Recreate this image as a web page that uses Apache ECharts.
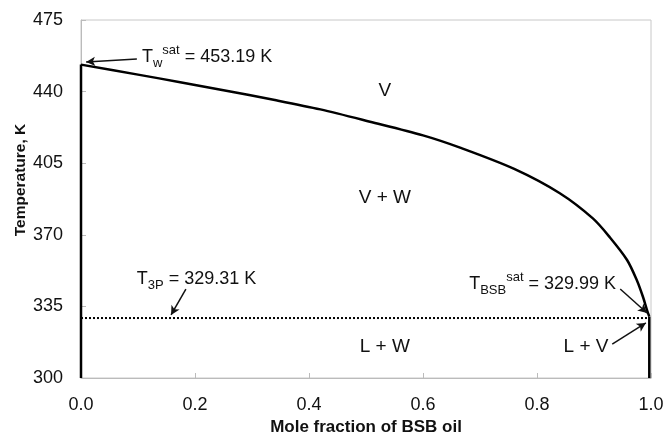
<!DOCTYPE html>
<html><head><meta charset="utf-8">
<script src="https://cdn.jsdelivr.net/npm/echarts@6/dist/echarts.min.js"></script>
<style>html,body{margin:0;padding:0;background:#fff}#c{width:665px;height:432px}</style>
</head><body><div id="c"></div>
<script>
// Phase boundary (W / V dew curve), mole fraction of BSB oil vs temperature (K)
var curveX = [0, 0.1, 0.174, 0.25, 0.34, 0.42, 0.507, 0.6, 0.665, 0.76, 0.84, 0.898, 0.928, 0.958, 0.975, 0.986, 0.993, 0.997];
var curveT = [453.19, 448.3, 444.6, 440.7, 435.9, 431.3, 425.3, 418.6, 412.6, 402.2, 390.3, 378.0, 368.7, 357.7, 347.9, 339.6, 333.2, 329.99];
// Vertical boundaries at the pure-component ends
var leftEdgeX = [0, 0];
var leftEdgeT = [300, 453.19];
var rightEdgeX = [0.997, 0.997];
var rightEdgeT = [329.99, 300];
// Three-phase line
var tripleX = [0, 0.997];
var tripleT = [329.31, 329.31];
// Axis ticks
var xTicks = [0, 0.2, 0.4, 0.6, 0.8, 1.0];
var yTicks = [300, 335, 370, 405, 440, 475];
// Region labels: [x, T, text]
var regionLabels = [[0.533, 440.3, 'V'], [0.533, 388.0, 'V + W'], [0.533, 315.2, 'L + W'], [0.886, 315.2, 'L + V']];
// Annotation texts anchored at left: [x, T, rich text]
var annotations = [
  [0.107, 456.9, '{m|T}{sub|w}{sup|sat}{m| = 453.19 K}'],
  [0.098, 348.4, '{m|T}{sub|3P}{m| = 329.31 K}'],
  [0.681, 345.9, '{m|T}{sub|BSB}{sup|sat}{m| = 329.99 K}']
];
// Arrows: [fromX, fromT, toX, toT]
var arrows = [
  [0.098, 455.9, 0.009, 454.5],
  [0.184, 343.5, 0.158, 330.8],
  [0.946, 343.5, 0.993, 331.8],
  [0.932, 316.6, 0.991, 326.9]
];

var font = 'Liberation Sans, Arial, sans-serif';
var chart = echarts.init(document.getElementById('c'));
var rich = {
  m: {fontSize: 18, fontFamily: font, color: '#111', lineHeight: 26},
  sub: {fontSize: 13, fontFamily: font, color: '#111', verticalAlign: 'bottom', lineHeight: 14},
  sup: {fontSize: 13, fontFamily: font, color: '#111', verticalAlign: 'top', lineHeight: 14}
};
function zip(a, b) { return a.map(function (v, i) { return [v, b[i]]; }); }
var solid = {color: '#000', width: 2.5};

chart.setOption({
  animation: false,
  backgroundColor: '#fff',
  grid: {left: 81, right: 14, top: 20, bottom: 54, show: true, borderColor: '#c8c8c8', borderWidth: 1,
         containLabel: false, outerBoundsMode: 'none'},
  xAxis: {
    type: 'value', min: xTicks[0], max: xTicks[xTicks.length - 1], interval: 0.2,
    name: 'Mole fraction of BSB oil', nameLocation: 'middle', nameGap: 33,
    nameTextStyle: {fontSize: 17, fontWeight: 'bold', fontFamily: font, color: '#111'},
    axisLine: {lineStyle: {color: '#bbb', width: 1}},
    axisTick: {inside: true, length: 5, lineStyle: {color: '#bbb'}},
    axisLabel: {fontSize: 18, fontFamily: font, color: '#111', margin: 18, formatter: function (v) { return v.toFixed(1); }},
    splitLine: {show: false}
  },
  yAxis: {
    type: 'value', min: yTicks[0], max: yTicks[yTicks.length - 1], interval: 35,
    axisLine: {show: true, lineStyle: {color: '#bbb', width: 1}},
    axisTick: {show: true, inside: true, length: 5, lineStyle: {color: '#bbb'}},
    axisLabel: {fontSize: 18, fontFamily: font, color: '#111', margin: 18},
    splitLine: {show: false}
  },
  graphic: [{
    type: 'text', x: 21, y: 180, rotation: Math.PI / 2,
    style: {text: 'Temperature, K', fontSize: 15.5, fontWeight: 'bold', fontFamily: font, fill: '#111', align: 'center', verticalAlign: 'middle'}
  }],
  series: [
    {
      type: 'line', data: zip(curveX, curveT), showSymbol: false, symbol: 'none', smooth: 0.3,
      lineStyle: solid, z: 3,
      markPoint: {
        symbol: 'circle', symbolSize: 0,
        data: regionLabels.map(function (r) {
          return {coord: [r[0], r[1]], label: {show: true, position: 'inside', formatter: r[2], fontSize: 19, fontFamily: font, color: '#111'}};
        }).concat(annotations.map(function (a) {
          return {coord: [a[0], a[1]], label: {show: true, position: 'right', distance: 0, formatter: a[2], rich: rich}};
        }))
      },
      markLine: {
        silent: true, symbol: ['none', 'arrow'], symbolSize: [7, 9],
        label: {show: false},
        lineStyle: {color: '#111', width: 1.5, type: 'solid'},
        data: arrows.map(function (a) { return [{coord: [a[0], a[1]]}, {coord: [a[2], a[3]]}]; })
      }
    },
    {type: 'line', data: zip(leftEdgeX, leftEdgeT), showSymbol: false, symbol: 'none', lineStyle: solid, z: 3},
    {type: 'line', data: zip(rightEdgeX, rightEdgeT), showSymbol: false, symbol: 'none', lineStyle: solid, z: 3},
    {
      type: 'line', data: zip(tripleX, tripleT), showSymbol: false, symbol: 'none',
      lineStyle: {color: '#000', width: 2, type: [2, 2]}, z: 2
    }
  ]
});
</script></body></html>
